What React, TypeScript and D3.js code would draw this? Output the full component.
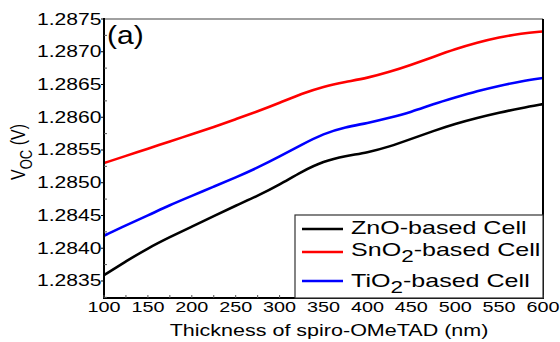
import * as d3 from "d3"

const thickness = [100, 125, 150, 175, 200, 225, 250, 275, 300, 325, 350, 375, 400, 425, 450, 475, 500, 525, 550, 575, 600]
const znoVoc = [1.28359, 1.2838, 1.284, 1.28417, 1.28433, 1.28449, 1.28465, 1.2848, 1.28497, 1.28517, 1.28533, 1.28541, 1.28546, 1.28555, 1.28567, 1.28579, 1.2859, 1.28599, 1.28607, 1.28614, 1.2862]
const sno2Voc = [1.2853, 1.28541, 1.28552, 1.28563, 1.28574, 1.28585, 1.28597, 1.28609, 1.28622, 1.28636, 1.28647, 1.28654, 1.2866, 1.28669, 1.2868, 1.28692, 1.28704, 1.28714, 1.28722, 1.28728, 1.28731]
const tio2Voc = [1.28419, 1.28435, 1.2845, 1.28466, 1.2848, 1.28494, 1.28508, 1.28523, 1.2854, 1.28558, 1.28575, 1.28585, 1.28591, 1.28599, 1.28608, 1.2862, 1.2863, 1.2864, 1.28648, 1.28655, 1.2866]
const xTicks = [100, 150, 200, 250, 300, 350, 400, 450, 500, 550, 600]
const yTicks = [1.2835, 1.284, 1.2845, 1.285, 1.2855, 1.286, 1.2865, 1.287, 1.2875]

const series = [
  { name: "ZnO", sub: "", values: znoVoc, color: "#000000" },
  { name: "SnO", sub: "2", values: sno2Voc, color: "#ff0000" },
  { name: "TiO", sub: "2", values: tio2Voc, color: "#0000ff" },
]

// the picture is stretched sideways, so text gets the same stretch
const SX = 1.32
const FONT = "'Liberation Sans', Arial, sans-serif"

export default function App() {
  const width = 560
  const height = 342
  const left = 104
  const right = 543
  const top = 19
  const bottom = 298

  const x = d3.scaleLinear().domain([100, 600]).range([left, right])
  const y = d3.scaleLinear().domain([1.28324, 1.2875]).range([bottom, top])

  const line = d3
    .line<[number, number]>()
    .x((d) => x(d[0]))
    .y((d) => y(d[1]))
    .curve(d3.curveBasis)

  const xMinor = d3.range(100, 601, 25)
  const yMinor = d3.range(1.28325, 1.2875, 0.0005)

  const legendRows = [
    { lineY: 229, base: 234 },
    { lineY: 252, base: 256 },
    { lineY: 281, base: 287 },
  ]

  return (
    <svg width={width} height={height} style={{ position: "absolute", left: 0, top: 0, background: "#fff" }} fontFamily={FONT}>
      <rect width={width} height={height} fill="#fff" />

      {/* curves */}
      <g fill="none" strokeWidth={2.6}>
        {series.map((s) => (
          <path key={s.name} d={line(thickness.map((t, i) => [t, s.values[i]]))!} stroke={s.color} />
        ))}
      </g>

      {/* frame */}
      <line x1={left} x2={right} y1={top} y2={top} stroke="#808080" strokeWidth={1.5} />
      <line x1={right} x2={right} y1={top} y2={bottom} stroke="#000" strokeWidth={2} />
      <line x1={left} x2={left} y1={top - 1} y2={bottom + 1} stroke="#000" strokeWidth={2} />
      <line x1={left - 1} x2={right + 1} y1={bottom} y2={bottom} stroke="#000" strokeWidth={2} />

      {/* y ticks */}
      {yTicks.map((t) => (
        <g key={t}>
          <line x1={left - 3} x2={left} y1={y(t)} y2={y(t)} stroke="#000" strokeWidth={1} />
          <g transform={`translate(${left - 2.5},${y(t) + 5.5}) scale(${SX},1)`}>
            <text textAnchor="end" fontSize={16} fill="#000">
              {t.toFixed(4)}
            </text>
          </g>
        </g>
      ))}
      {yMinor.map((t) => (
        <line key={t} x1={left} x2={left + 3} y1={y(t)} y2={y(t)} stroke="#555" strokeWidth={1} />
      ))}

      {/* x ticks */}
      {xMinor.map((t) => (
        <line key={t} x1={x(t)} x2={x(t)} y1={bottom} y2={bottom - 3} stroke="#555" strokeWidth={1} />
      ))}
      {xTicks.map((t) => (
        <g key={t} transform={`translate(${x(t)},${312}) scale(${SX},1)`}>
          <text textAnchor="middle" fontSize={15} fill="#000">
            {t}
          </text>
        </g>
      ))}

      {/* axis titles */}
      <g transform={`translate(329,336) scale(${SX},1)`}>
        <text textAnchor="middle" fontSize={16.3} fill="#000">
          Thickness of spiro-OMeTAD (nm)
        </text>
      </g>
      <g transform={`translate(25,152) scale(${SX},1) rotate(-90)`}>
        <text textAnchor="middle" fontSize={16} fill="#000">
          V
          <tspan fontSize={13} dy={5}>
            OC
          </tspan>
          <tspan dy={-5}> (V)</tspan>
        </text>
      </g>

      {/* panel tag */}
      <g transform={`translate(107,44) scale(1.2,1)`}>
        <text fontSize={25} fill="#000">
          (a)
        </text>
      </g>

      {/* legend */}
      <rect x={295} y={215} width={right - 295} height={bottom - 215} fill="#fff" stroke="#333" strokeWidth={1.2} />
      {series.map((s, i) => (
        <g key={s.name}>
          <line x1={302} x2={343} y1={legendRows[i].lineY} y2={legendRows[i].lineY} stroke={s.color} strokeWidth={2.6} />
          <g transform={`translate(351,${legendRows[i].base}) scale(${SX},1)`}>
            <text fontSize={19} fill="#000">
              {s.name}
              {s.sub && (
                <tspan fontSize={17} dy={6}>
                  {s.sub}
                </tspan>
              )}
              <tspan dy={s.sub ? -6 : 0}>-based Cell</tspan>
            </text>
          </g>
        </g>
      ))}
    </svg>
  )
}
